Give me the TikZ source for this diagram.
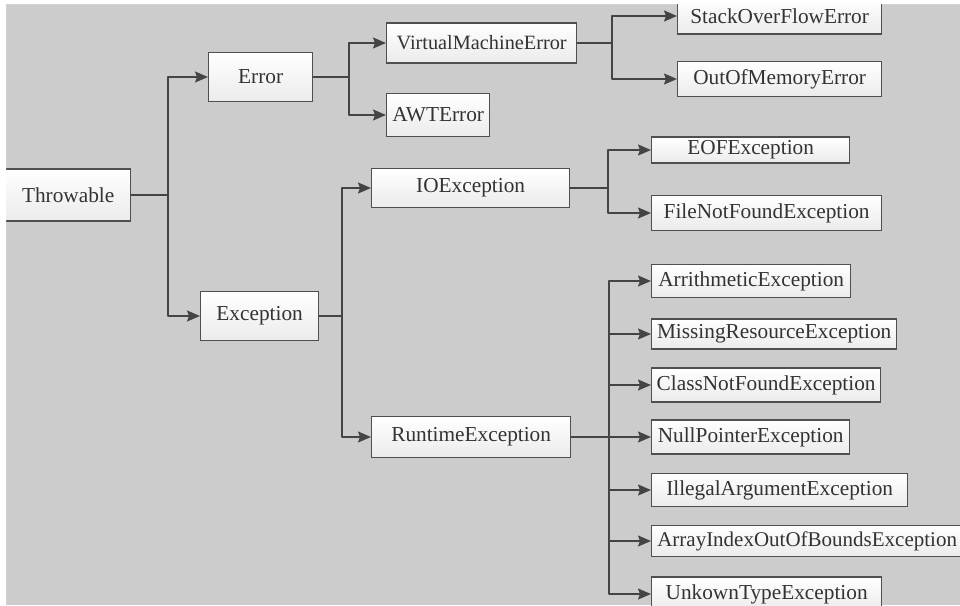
\documentclass[tikz,border=0pt]{standalone}
\usepackage{fontspec}
\setmainfont{Liberation Serif}
\usetikzlibrary{arrows.meta}
\definecolor{nen}{HTML}{CCCCCC}
\definecolor{vien}{HTML}{4F4F4F}
\definecolor{day}{HTML}{444444}
\definecolor{chu}{HTML}{333333}
\definecolor{day hop}{HTML}{EBEBEB}
\tikzset{
  lop/.style={draw=vien, line width=1.3pt, top color=white, bottom color=day hop,
    text=chu, inner sep=0pt, anchor=west, font=\fontsize{21.3}{24}\selectfont},
  noi/.style={draw=day, line width=1.6pt, line join=round},
}
\begin{document}
\begin{tikzpicture}[x=1pt,y=-1pt,>={Stealth[length=13pt,width=11pt,inset=2pt]}]
            \useasboundingbox (0,0) rectangle (960,605);
            \clip (0,0) rectangle (960,605);
            \fill[white] (0,0) rectangle (960,605);
            \fill[nen] (6,4) rectangle (960,605);
            %Cac lop
            \node[lop, minimum width=125, minimum height=52] (thr) at (5,195) {Throwable};
            \node[lop, minimum width=104, minimum height=49] (err) at (208,77) {Error};
            \node[lop, minimum width=118, minimum height=49] (exc) at (200,316) {Exception};
            \node[lop, minimum width=190, minimum height=40, font=\fontsize{20.3}{24}\selectfont] (vme) at (386,43) {VirtualMachineError};
            \node[lop, minimum width=103, minimum height=43] (awt) at (386,115) {AWTError};
            \node[lop, minimum width=204, minimum height=36] (sof) at (677,16) {StackOverFlowError};
            \node[lop, minimum width=204, minimum height=35] (oom) at (677,79) {OutOfMemoryError};
            \node[lop, minimum width=198, minimum height=39] (io) at (371,188) {IOException};
            \node[lop, minimum width=199, minimum height=41] (rt) at (371,437) {RuntimeException};
            \node[lop, minimum width=198, minimum height=26] (eof) at (651,150) {EOFException};
            \node[lop, minimum width=230, minimum height=35] (fnf) at (651,213) {FileNotFoundException};
            \node[lop, minimum width=199, minimum height=33] (ari) at (651,281) {ArrithmeticException};
            \node[lop, minimum width=245, minimum height=30] (mis) at (651,334) {MissingResourceException};
            \node[lop, minimum width=229, minimum height=34] (cnf) at (651,385) {ClassNotFoundException};
            \node[lop, minimum width=198, minimum height=34] (npe) at (651,437) {NullPointerException};
            \node[lop, minimum width=256, minimum height=33] (ill) at (651,490) {IllegalArgumentException};
            \node[lop, minimum width=311, minimum height=31, font=\fontsize{21}{24}\selectfont] (arr) at (651,541) {ArrayIndexOutOfBoundsException};
            \node[lop, minimum width=230, minimum height=34] (unk) at (651,594) {UnkownTypeException};
            %Diem re nhanh
            \coordinate (rThr) at (168,195);
            \coordinate (rErr) at (349,77);
            \coordinate (rExc) at (342,316);
            \coordinate (rVme) at (612,43);
            \coordinate (rIo) at (608,188);
            \coordinate (rRt) at (609,437);
            %Duong noi
            \draw[noi] (thr.east)--(rThr);
            \draw[noi,->] (rThr) |- (err.west);
            \draw[noi,->] (rThr) |- (exc.west);
            \draw[noi] (err.east)--(rErr);
            \draw[noi,->] (rErr) |- (vme.west);
            \draw[noi,->] (rErr) |- (awt.west);
            \draw[noi] (vme.east)--(rVme);
            \draw[noi,->] (rVme) |- (sof.west);
            \draw[noi,->] (rVme) |- (oom.west);
            \draw[noi] (exc.east)--(rExc);
            \draw[noi,->] (rExc) |- (io.west);
            \draw[noi,->] (rExc) |- (rt.west);
            \draw[noi] (io.east)--(rIo);
            \draw[noi,->] (rIo) |- (eof.west);
            \draw[noi,->] (rIo) |- (fnf.west);
            \draw[noi] (rt.east)--(rRt);
            \foreach \c in {ari,mis,cnf,npe,ill,arr,unk}
                \draw[noi,->] (rRt) |- (\c.west);
            %Vien trang
            \fill[white] (0,0) rectangle (960,4) (0,0) rectangle (6,605);
\end{tikzpicture}
\end{document}
